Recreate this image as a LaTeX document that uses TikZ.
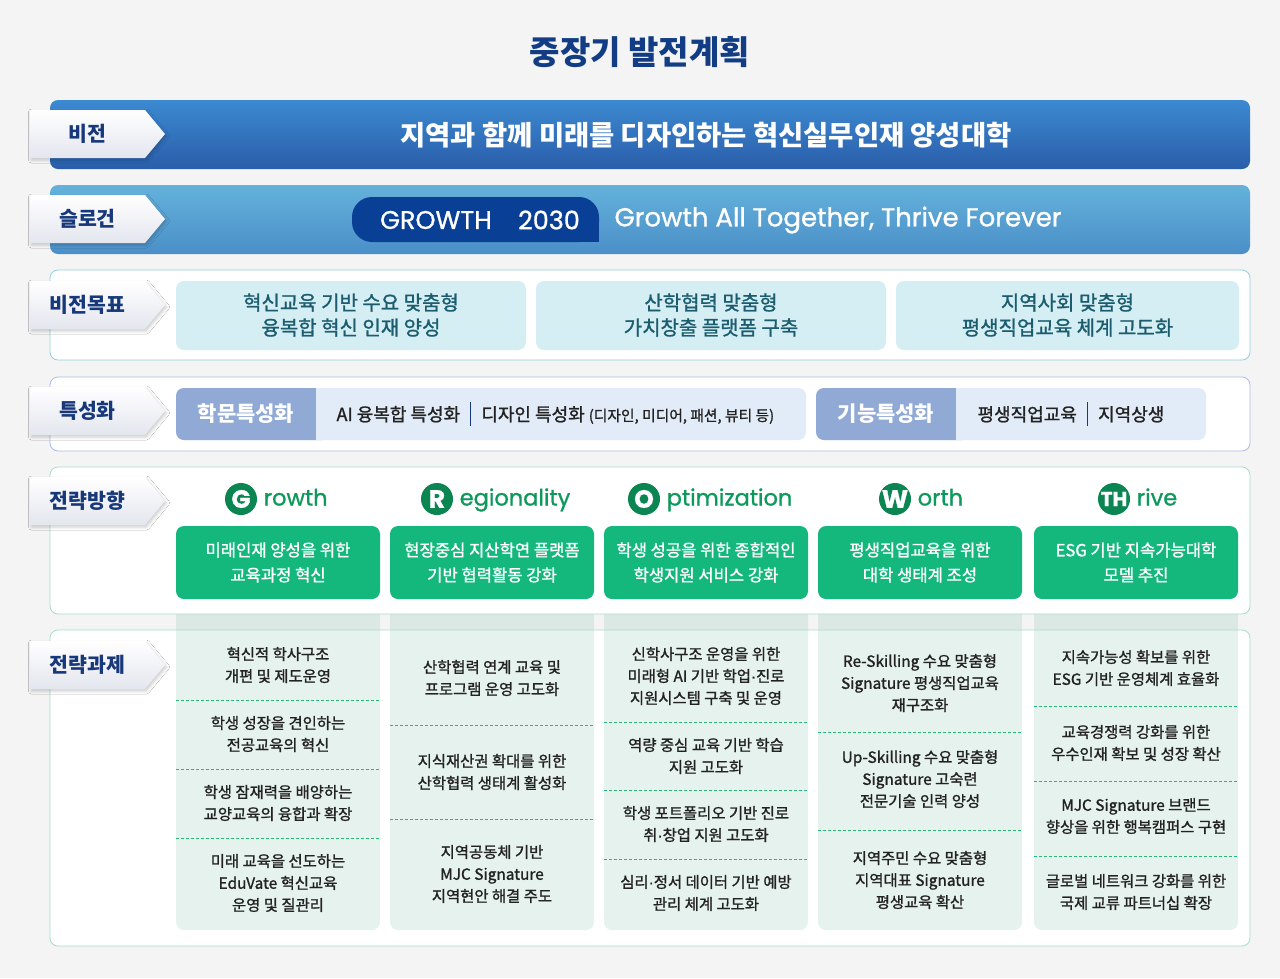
\documentclass[tikz,border=0pt]{standalone}
\usepackage{fontspec}
\setmainfont{Noto Sans CJK KR}
\newfontfamily\popfont{Poppins}[FakeBold=1]
\newfontfamily\medfont{Noto Sans CJK KR}[FakeBold=1.2]
\newfontfamily\latinfont{Liberation Sans}[FakeBold=1]
\usetikzlibrary{positioning,shadows.blur}

\definecolor{bggrey}{HTML}{F4F4F4}
\definecolor{navy}{HTML}{17387A}
\definecolor{titleblue}{HTML}{123D85}
\definecolor{tabgrey}{HTML}{E4E6EF}
\definecolor{visiontop}{HTML}{3C8AD1}
\definecolor{visionbot}{HTML}{2A5DAA}
\definecolor{slogantop}{HTML}{64B2DB}
\definecolor{sloganbot}{HTML}{4A8FC8}
\definecolor{pillblue}{HTML}{0A3F96}
\definecolor{goalline}{HTML}{8ED0DF}
\definecolor{goalfill}{HTML}{D5EEF4}
\definecolor{goaltext}{HTML}{1B5D6E}
\definecolor{specline}{HTML}{A9BBEA}
\definecolor{speclight}{HTML}{E2ECF8}
\definecolor{specmid}{HTML}{90A9D5}
\definecolor{dirline}{HTML}{A5DEC6}
\definecolor{dirgreen}{HTML}{14B87C}
\definecolor{headgreen}{HTML}{0E995C}
\definecolor{circgreen}{HTML}{0B8551}
\definecolor{taskfill}{HTML}{0E825A}
\definecolor{dashgreen}{HTML}{2BB57B}
\definecolor{textdark}{HTML}{222222}

% separator bar in the specialisation row
\newcommand{\sepbar}{\hspace{10pt}{\color{navy}\rule[-5pt]{1.2pt}{24pt}}\hspace{10pt}}
% narrow middle dot
\newcommand{\mdot}{{\latinfont ·}}
% left tab: name, y, label
\newcommand{\tabel}[3]{%
  \path[tabshape] (30,#2-24) -- (145,#2-24) -- (165,#2) -- (145,#2+24) -- (30,#2+24) -- cycle;
  \node[tabtext] (#1) at (87.5,#2) {#3};}

\begin{document}
\begin{tikzpicture}[x=1pt, y=-1pt,
  tabshape/.style={top color=white, bottom color=tabgrey, blur shadow={shadow xshift=1.5pt, shadow yshift=-2pt, shadow blur radius=3pt, shadow opacity=20}},
  tabtext/.style={text=navy, font=\fontsize{20.5}{22}\selectfont\bfseries},
  panel/.style={fill=white, rounded corners=8pt, line width=0.8pt},
  goalbox/.style={fill=goalfill, rounded corners=8pt},
  goaltxt/.style={align=center, text=goaltext, font=\medfont\fontsize{20}{25}\selectfont},
  speclabel/.style={text=white, font=\fontsize{21}{22}\selectfont\bfseries},
  spectxt/.style={anchor=west, text=textdark, font=\medfont\fontsize{18}{20}\selectfont},
  headcirc/.style={circle, fill=circgreen, text=white, minimum size=32pt, inner sep=0pt, font=\popfont\fontsize{25}{26}\selectfont\bfseries},
  headword/.style={right=3pt of #1, text=headgreen, text height=17pt, text depth=4pt, font=\popfont\fontsize{22.5}{24}\selectfont},
  dirbox/.style={fill=dirgreen, rounded corners=8pt},
  dirtxt/.style={align=center, text=white, font=\medfont\fontsize{16.6}{25}\selectfont},
  taskcol/.style={fill=taskfill, fill opacity=0.1, rounded corners=8pt},
  divider/.style={dashgreen, dash pattern=on 3pt off 2pt, line width=0.9pt},
  tasktxt/.style={align=center, text=textdark, font=\medfont\fontsize{15.4}{22}\selectfont}]

  \fill[bggrey] (0,0) rectangle (1280,978);
  \useasboundingbox (0,0) rectangle (1280,978);

  \node[text=titleblue, font=\fontsize{33}{36}\selectfont\bfseries] (title) at (640,52) {중장기 발전계획};

  % vision
  \path[top color=visiontop, bottom color=visionbot, rounded corners=8pt] (50,100) rectangle (1250,169);
  \node[text=white, font=\fontsize{27.4}{30}\selectfont\bfseries] (vision) at (706,135) {지역과 함께 미래를 디자인하는 혁신실무인재 양성대학};
  \tabel{tvision}{134}{비전}

  % slogan
  \path[top color=slogantop, bottom color=sloganbot, rounded corners=8pt] (50,185) rectangle (1250,254);
  \fill[pillblue, rounded corners=20pt] (352,197) rectangle (599,242);
  \fill[pillblue] (570,220) rectangle (599,242);
  \node[text=white, font=\popfont\fontsize{25.5}{28}\selectfont] (grow) at (436,220) {GROWTH};
  \node[text=white, font=\popfont\fontsize{25.5}{28}\selectfont] (year) at (549,220) {2030};
  \node[anchor=west, text=white, font=\popfont\fontsize{26}{28}\selectfont] (motto) at (611,220) {Growth All Together, Thrive Forever};
  \tabel{tslogan}{219}{슬로건}

  % vision goals
  \draw[panel, draw=goalline] (50,270) rectangle (1250,360);
  \fill[goalbox] (176,281) rectangle (526,350);
  \fill[goalbox] (536,281) rectangle (886,350);
  \fill[goalbox] (896,281) rectangle (1239,350);
  \node[goaltxt] (g1) at (351,315) {혁신교육 기반 수요 맞춤형\\융복합 혁신 인재 양성};
  \node[goaltxt] (g2) at (711,315) {산학협력 맞춤형\\가치창출 플랫폼 구축};
  \node[goaltxt] (g3) at (1067.5,315) {지역사회 맞춤형\\평생직업교육 체계 고도화};
  \tabel{tgoal}{305}{비전목표}

  % specialisation
  \draw[panel, draw=specline] (50,377) rectangle (1250,451);
  \fill[speclight, rounded corners=8pt] (176,388) rectangle (806,440);
  \fill[specmid, rounded corners=8pt] (176,388) rectangle (330,440);
  \fill[speclight] (316,388) rectangle (332,440);
  \node[speclabel] (acad) at (246,414) {학문특성화};
  \node[spectxt] (acadtxt) at (333,414) {AI 융복합 특성화\sepbar 디자인 특성화 {\fontsize{14.8}{16}\selectfont(디자인, 미디어, 패션, 뷰티 등)}};
  \fill[speclight, rounded corners=8pt] (816,388) rectangle (1206,440);
  \fill[specmid, rounded corners=8pt] (816,388) rectangle (970,440);
  \fill[speclight] (956,388) rectangle (972,440);
  \node[speclabel] (func) at (886,414) {기능특성화};
  \node[spectxt] (functxt) at (974,414) {평생직업교육\sepbar 지역상생};
  \tabel{tspec}{411}{특성화}

  % strategic tasks (panel, columns, dividers)
  \fill[panel] (50,630) rectangle (1250,946);
  \foreach \x in {176,390,604,818,1034}
    \fill[taskcol] (\x,600) rectangle ++(204,330);
  \draw[dirline, rounded corners=8pt, line width=0.8pt] (50,630) rectangle (1250,946);
  \foreach \x/\y in {176/700,176/769,176/838,390/725,390/819,604/722,604/790,604/859,818/732,818/830,1034/706,1034/781,1034/856}
    \draw[divider] (\x,\y) -- ++(204,0);

  % strategic directions
  \draw[panel, draw=dirline] (50,467) rectangle (1250,614);
  \node[headcirc] (cG) at (241,499) {G};
  \node[headword=cG] (wG) {rowth};
  \node[headcirc] (cR) at (437,499) {R};
  \node[headword=cR] (wR) {egionality};
  \node[headcirc] (cO) at (644,499) {O};
  \node[headword=cO] (wO) {ptimization};
  \node[headcirc] (cW) at (895,499) {W};
  \node[headword=cW] (wW) {orth};
  \node[headcirc, font=\popfont\fontsize{20}{21}\selectfont\bfseries] (cT) at (1114,499) {TH};
  \node[headword=cT] (wT) {rive};
  \foreach \x in {176,390,604,818,1034}
    \fill[dirbox] (\x,526) rectangle ++(204,73);
  \node[dirtxt] (d1) at (278,562.5) {미래인재 양성을 위한\\교육과정 혁신};
  \node[dirtxt] (d2) at (492,562.5) {현장중심 지산학연 플랫폼\\기반 협력활동 강화};
  \node[dirtxt] (d3) at (706,562.5) {학생 성공을 위한 종합적인\\학생지원 서비스 강화};
  \node[dirtxt] (d4) at (920,562.5) {평생직업교육을 위한\\대학 생태계 조성};
  \node[dirtxt] (d5) at (1136,562.5) {ESG 기반 지속가능대학\\모델 추진};
  \tabel{tdir}{501}{전략방향}

  % task texts
  \node[tasktxt] (t11) at (278,665) {혁신적 학사구조\\개편 및 제도운영};
  \node[tasktxt] (t12) at (278,734) {학생 성장을 견인하는\\전공교육의 혁신};
  \node[tasktxt] (t13) at (278,803) {학생 잠재력을 배양하는\\교양교육의 융합과 확장};
  \node[tasktxt] (t14) at (278,883) {미래 교육을 선도하는\\EduVate 혁신교육\\운영 및 질관리};
  \node[tasktxt] (t21) at (492,678) {산학협력 연계 교육 및\\프로그램 운영 고도화};
  \node[tasktxt] (t22) at (492,772) {지식재산권 확대를 위한\\산학협력 생태계 활성화};
  \node[tasktxt] (t23) at (492,874) {지역공동체 기반\\MJC Signature\\지역현안 해결 주도};
  \node[tasktxt] (t31) at (706,676) {신학사구조 운영을 위한\\미래형 AI 기반 학업\mdot 진로\\지원시스템 구축 및 운영};
  \node[tasktxt] (t32) at (706,756) {역량 중심 교육 기반 학습\\지원 고도화};
  \node[tasktxt] (t33) at (706,824) {학생 포트폴리오 기반 진로\\취\mdot 창업 지원 고도화};
  \node[tasktxt] (t34) at (706,893) {심리\mdot 정서 데이터 기반 예방\\관리 체계 고도화};
  \node[tasktxt] (t41) at (920,683) {Re-Skilling 수요 맞춤형\\Signature 평생직업교육\\재구조화};
  \node[tasktxt] (t42) at (920,779) {Up-Skilling 수요 맞춤형\\Signature 고숙련\\전문기술 인력 양성};
  \node[tasktxt] (t43) at (920,880) {지역주민 수요 맞춤형\\지역대표 Signature\\평생교육 확산};
  \node[tasktxt] (t51) at (1136,668) {지속가능성 확보를 위한\\ESG 기반 운영체계 효율화};
  \node[tasktxt] (t52) at (1136,743) {교육경쟁력 강화를 위한\\우수인재 확보 및 성장 확산};
  \node[tasktxt] (t53) at (1136,816) {MJC Signature 브랜드\\향상을 위한 행복캠퍼스 구현};
  \node[tasktxt] (t54) at (1136,892) {글로벌 네트워크 강화를 위한\\국제 교류 파트너십 확장};
  \tabel{ttask}{665}{전략과제}
\end{tikzpicture}
\end{document}
